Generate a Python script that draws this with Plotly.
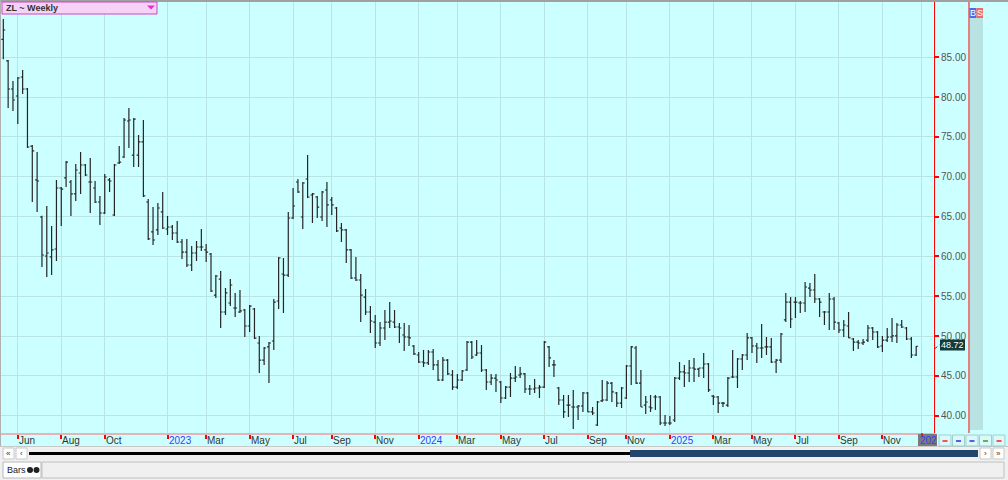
import plotly.graph_objects as go
import pandas as pd

W, H = 1008, 480

# ---------------- data (weekly OHLC, ZL) ----------------
start_date = "2022-05-13"
open_ = [87.26, 84.54, 81.02, 80.14, 82.53, 81.02, 73.86, 69.6, 64.95, 60.05,
         59.93, 60.93, 68.59, 69.85, 69.34, 67.84, 70.47, 71.48, 69.34, 68.59,
         66.83, 65.45, 69.6, 65.2, 71.73, 72.48, 77.0, 72.73, 72.73, 74.37,
         66.83, 63.07, 63.32, 65.58, 63.44, 63.69, 62.94, 61.81, 60.55, 58.92,
         60.43, 61.18, 60.81, 60.3, 55.15, 57.16, 53.02, 54.15, 53.52, 53.02,
         53.27, 51.26, 53.4, 49.13, 46.99, 48.63, 49.38, 54.4, 57.79, 57.66,
         64.82, 69.34, 64.95, 69.72, 67.71, 67.46, 64.95, 68.34, 67.08, 66.08,
         63.57, 63.32, 60.81, 57.29, 57.04, 54.9, 53.02, 51.76, 49.13, 51.01,
         51.76, 51.76, 51.14, 50.13, 49.88, 48.75, 47.62, 46.74, 46.62, 48.0,
         46.37, 44.48, 46.99, 45.11, 43.6, 44.48, 45.74, 49.25, 47.62, 47.87,
         45.74, 44.23, 44.73, 44.23, 42.22, 43.6, 44.73, 45.11, 45.24, 43.35,
         43.35, 43.48, 43.6, 48.63, 46.37, 43.48, 41.97, 41.34, 41.09, 41.09,
         41.22, 42.85, 40.47, 38.83, 41.85, 41.97, 44.1, 42.85, 41.59, 42.22,
         46.24, 48.5, 44.1, 41.34, 41.09, 42.35, 42.35, 39.08, 39.08, 39.46,
         44.73, 45.49, 45.36, 45.99, 45.86, 45.99, 46.49, 42.47, 42.35, 41.59,
         41.34, 44.86, 44.86, 47.12, 47.62, 49.76, 48.75, 48.5, 48.63, 48.63,
         46.74, 46.99, 52.02, 54.27, 54.27, 54.15, 54.15, 56.03, 55.78, 54.65,
         53.02, 53.02, 54.65, 51.64, 50.76, 51.26, 49.63, 49.25, 49.13, 49.5,
         51.01, 50.51, 48.75, 49.5, 49.88, 50.01, 51.39, 51.01, 49.63, 47.62]
high = [89.81, 84.66, 82.02, 82.53, 83.41, 81.15, 74.0, 73.11, 65.1, 66.33,
        63.82, 69.6, 68.72, 71.98, 69.6, 71.6, 73.11, 71.6, 72.36, 69.47,
        67.59, 70.35, 69.85, 71.6, 73.86, 77.38, 78.63, 77.38, 75.24, 77.13,
        67.21, 66.2, 66.71, 68.09, 65.07, 63.94, 64.45, 62.19, 62.19, 61.31,
        61.94, 63.44, 61.56, 60.43, 57.66, 58.17, 56.03, 57.16, 55.41, 55.78,
        53.4, 53.9, 53.52, 50.01, 48.63, 49.25, 54.65, 59.93, 59.8, 65.58,
        68.59, 69.72, 69.34, 72.73, 67.96, 67.59, 68.21, 69.34, 67.46, 66.2,
        64.19, 63.44, 60.93, 59.93, 57.79, 55.91, 53.77, 52.64, 51.76, 53.27,
        54.27, 53.27, 51.64, 51.64, 51.39, 48.88, 48.0, 48.25, 48.25, 48.37,
        46.99, 47.37, 47.12, 45.74, 45.24, 45.74, 49.38, 49.38, 49.5, 48.88,
        45.86, 45.24, 45.24, 44.36, 43.73, 45.36, 46.24, 46.12, 45.36, 43.85,
        44.61, 43.85, 49.38, 48.75, 46.99, 43.6, 42.6, 42.6, 43.23, 41.34,
        42.98, 42.98, 41.09, 41.85, 44.48, 44.36, 44.23, 42.98, 43.6, 46.37,
        48.75, 48.75, 45.74, 42.47, 42.6, 42.6, 42.47, 40.09, 39.96, 44.86,
        46.74, 46.37, 46.99, 47.25, 45.99, 47.87, 46.62, 42.6, 42.47, 41.72,
        44.86, 48.25, 47.25, 47.75, 50.38, 49.88, 49.13, 51.51, 49.88, 49.76,
        47.12, 50.38, 55.41, 54.9, 54.9, 54.4, 56.79, 56.66, 57.79, 54.78,
        53.15, 55.41, 54.9, 51.76, 52.02, 53.02, 49.76, 49.5, 49.63, 51.39,
        51.14, 50.63, 50.01, 51.01, 52.27, 51.64, 52.02, 51.14, 49.88, 48.75]
low = [84.75, 78.63, 78.26, 76.63, 80.39, 73.61, 66.83, 65.58, 58.67, 57.41,
       57.66, 59.42, 63.82, 68.72, 65.07, 66.96, 67.84, 70.1, 65.45, 66.71,
       63.94, 65.32, 68.09, 65.07, 71.6, 72.35, 73.61, 71.23, 71.23, 67.46,
       62.06, 61.43, 62.69, 63.44, 62.69, 62.06, 61.68, 59.67, 58.67, 58.17,
       59.42, 60.68, 59.29, 55.53, 54.78, 51.01, 52.64, 53.77, 52.39, 52.89,
       49.88, 50.51, 49.63, 45.36, 46.37, 44.1, 48.25, 53.4, 52.89, 57.41,
       64.7, 67.96, 63.44, 67.33, 64.19, 64.82, 64.45, 63.69, 65.2, 63.07,
       61.81, 59.17, 57.16, 56.91, 51.77, 52.64, 50.38, 48.5, 48.75, 49.5,
       51.01, 51.01, 49.13, 48.12, 48.75, 47.62, 46.62, 46.12, 46.37, 45.74,
       44.36, 44.36, 45.11, 43.23, 43.35, 44.36, 45.61, 47.12, 47.5, 45.49,
       43.23, 43.85, 42.98, 41.59, 42.09, 42.35, 44.23, 44.73, 42.85, 42.6,
       42.85, 42.22, 43.48, 46.12, 44.86, 41.34, 39.71, 39.84, 38.33, 39.46,
       40.47, 40.47, 40.09, 38.71, 41.72, 41.85, 41.72, 41.09, 40.97, 42.09,
       43.85, 43.98, 41.09, 40.21, 40.47, 40.72, 38.83, 38.71, 38.83, 39.21,
       44.48, 43.6, 44.23, 44.23, 44.86, 44.73, 42.98, 41.34, 40.34, 41.09,
       41.09, 44.73, 43.48, 45.74, 46.99, 47.87, 46.62, 47.25, 47.62, 46.62,
       45.36, 46.62, 51.76, 51.01, 52.27, 52.89, 53.02, 54.9, 54.15, 52.39,
       51.39, 50.76, 50.76, 50.38, 49.88, 49.76, 48.12, 48.37, 48.88, 49.25,
       49.5, 48.5, 47.99, 49.25, 49.25, 49.13, 51.01, 49.5, 47.25, 47.5]
close = [88.43, 81.02, 79.64, 82.4, 81.02, 73.74, 73.24, 69.47, 60.18, 60.43,
         60.81, 68.59, 68.46, 71.85, 67.84, 70.85, 71.48, 70.22, 69.34, 66.83,
         65.45, 69.97, 69.47, 71.48, 71.85, 77.13, 77.13, 77.25, 74.37, 67.59,
         62.19, 62.06, 66.08, 63.57, 63.69, 62.94, 61.81, 60.55, 58.92, 60.43,
         61.18, 61.18, 60.55, 55.66, 57.54, 53.02, 55.41, 56.41, 53.52, 53.15,
         51.26, 53.77, 49.75, 46.99, 48.5, 49.13, 54.27, 59.8, 57.66, 64.82,
         66.33, 68.09, 69.22, 67.46, 67.84, 66.2, 68.09, 66.46, 66.46, 63.2,
         63.32, 60.81, 57.29, 57.04, 55.15, 53.02, 51.89, 49.13, 51.01, 51.76,
         51.89, 51.14, 51.01, 49.88, 49.76, 47.75, 46.74, 46.62, 48.0, 46.37,
         44.48, 46.99, 45.24, 43.6, 44.48, 45.61, 49.25, 47.37, 47.87, 45.74,
         44.23, 44.73, 44.48, 42.22, 43.6, 44.73, 44.86, 45.24, 43.35, 43.35,
         43.48, 43.6, 49.25, 47.25, 46.37, 41.97, 40.47, 41.34, 41.09, 41.22,
         42.85, 40.47, 40.34, 41.72, 41.97, 44.1, 42.98, 41.59, 43.48, 46.24,
         48.63, 44.1, 41.09, 41.72, 40.97, 42.35, 39.08, 39.08, 39.08, 44.73,
         45.49, 45.36, 45.99, 45.86, 45.99, 46.49, 43.23, 42.35, 41.59, 41.59,
         44.73, 44.86, 47.12, 47.62, 49.76, 48.75, 48.5, 48.5, 48.63, 46.74,
         46.99, 50.26, 54.27, 52.14, 54.27, 54.15, 56.16, 55.78, 54.65, 54.27,
         53.02, 54.65, 51.76, 50.76, 51.39, 49.76, 49.25, 49.13, 49.25, 51.01,
         50.51, 48.63, 49.5, 49.88, 50.01, 51.39, 51.14, 49.63, 47.62, 48.72]

price_ticks = [40, 45, 50, 55, 60, 65, 70, 75, 80, 85]
time_tick_dates = ["2022-06-03", "2022-08-05", "2022-10-07", "2023-01-06", "2023-03-03",
                   "2023-05-05", "2023-07-07", "2023-09-01", "2023-11-03", "2024-01-05",
                   "2024-03-01", "2024-05-03", "2024-07-05", "2024-09-06", "2024-11-01",
                   "2025-01-03", "2025-03-07", "2025-05-02", "2025-07-04", "2025-09-05",
                   "2025-11-07", "2026-01-02"]
time_tick_labels = ["Jun", "Aug", "Oct", "2023", "Mar", "May", "Jul", "Sep", "Nov", "2024",
                    "Mar", "May", "Jul", "Sep", "Nov", "2025", "Mar", "May", "Jul", "Sep",
                    "Nov", "202"]
title_text = "ZL ~ Weekly"
last_price = close[-1]

dates = pd.date_range(start_date, periods=len(close), freq="7D")

# ---------------- helpers ----------------
def PX(x):
    return x / W


def PY(y):
    return 1 - y / H


CYAN = "#ccffff"
GRID = "#b8e4e4"
FONT = "Liberation Sans, Arial, sans-serif"

fig = go.Figure()
fig.add_trace(go.Ohlc(
    x=dates, open=open_, high=high, low=low, close=close,
    increasing=dict(line=dict(color="#262626", width=1.2)),
    decreasing=dict(line=dict(color="#262626", width=1.2)),
    tickwidth=0.4, hoverinfo="skip", showlegend=False,
))

shapes = []
annos = []


def rect(x0, y0, x1, y1, fill, line=None, lw=0, layer="below"):
    shapes.append(dict(type="rect", xref="paper", yref="paper",
                       x0=PX(x0), x1=PX(x1), y0=PY(y1), y1=PY(y0),
                       fillcolor=fill, layer=layer,
                       line=dict(color=line or fill, width=lw)))


def hline(x0, x1, y, color, w=1, layer="above", dash=None):
    shapes.append(dict(type="line", xref="paper", yref="paper",
                       x0=PX(x0), x1=PX(x1), y0=PY(y), y1=PY(y), layer=layer,
                       line=dict(color=color, width=w, dash=dash)))


def vline(x, y0, y1, color, w=1, layer="above"):
    shapes.append(dict(type="line", xref="paper", yref="paper",
                       x0=PX(x), x1=PX(x), y0=PY(y0), y1=PY(y1), layer=layer,
                       line=dict(color=color, width=w)))


def text(x, y, s, size=9, color="#333", anchor="left", bold=False, bg=None):
    annos.append(dict(xref="paper", yref="paper", x=PX(x), y=PY(y),
                      text=("<b>%s</b>" % s) if bold else s, showarrow=False,
                      xanchor=anchor, yanchor="middle",
                      font=dict(family=FONT, size=size, color=color),
                      bgcolor=bg, borderpad=0))


# cyan chart background incl. axis bands
rect(0, 0, 1008, 446, CYAN)
# right strip
vline(969, 0, 433, "#ff0000", 1)
rect(970, 18, 983, 430, "#b9e2e2", layer="above")
rect(969.5, 8, 976.3, 18, "#4d6be8", layer="above")
rect(976.3, 8, 983, 18, "#ec6a6a", layer="above")
text(973, 13, "B", size=9, color="white", anchor="center")
text(979.7, 13, "S", size=9, color="white", anchor="center")
# frame
hline(0, 1008, 1, "#a0a0a0", 2)
vline(0.5, 0, 480, "#b0b0b0", 1)
# time axis band bottom border
hline(0, 1008, 446.5, "#c8c8c8", 1)

# scrollbar row
rect(0, 447, 1008, 460, "#f0f0f0", layer="above")
for bx0, bx1, sym in [(3, 14, "«"), (16, 27, "‹"), (980, 991, "›"), (993, 1004, "»")]:
    rect(bx0, 448, bx1, 459, "#ffffff", line="#c8c8c8", lw=1, layer="above")
    text((bx0 + bx1) / 2, 453, sym, size=8, color="#333", anchor="center")
rect(29, 452, 630, 455, "#000000", layer="above")
rect(630, 450, 978, 457, "#24456b", layer="above")

# bottom panel
rect(0, 460, 1008, 480, "#f0f0f0", layer="above")
rect(42, 462, 1004, 478, "#f0f0f0", line="#c0c0c0", lw=1, layer="above")
rect(3, 462, 41, 478, "#ffffff", line="#b8b8b8", lw=1, layer="above")
text(6, 470, "Bars", size=9, color="#222")
for cx in (30, 36.5):
    shapes.append(dict(type="circle", xref="paper", yref="paper",
                       x0=PX(cx - 3), x1=PX(cx + 3), y0=PY(473), y1=PY(467),
                       fillcolor="#222", line=dict(color="#222", width=0), layer="above"))

# bottom right buttons
rect(918, 434, 937, 446, "#7a7a7a", layer="above")
text(919, 440.5, time_tick_labels[-1], size=10, color="#3a3aff")
vline(922, 433, 437, "#ff0000", 1.5)
icon_cols = ["#ee2222", "#2233dd", "#2233dd", "#22aa22", "#ee2222"]
for i, (bx0, col) in enumerate(zip([939, 952.5, 966, 979.5, 993], icon_cols)):
    rect(bx0, 435, bx0 + 12, 446, "#dcf8f8", line="#9ccfcf", lw=1, layer="above")
    hline(bx0 + 3.5, bx0 + 8.5, 441, col, 1.5)

# title box
rect(2, 2, 157, 14, "#f6d2f6", line="#cc44cc", lw=1, layer="above")
text(5, 8, title_text, size=9, color="#333", bold=True)
shapes.append(dict(type="path", xref="paper", yref="paper", layer="above",
                   path="M %f,%f L %f,%f L %f,%f Z" % (PX(147), PY(5.5), PX(155), PY(5.5), PX(151), PY(9.5)),
                   fillcolor="#dd33cc", line=dict(width=0)))

# last price label
rect(940, 339.5, 965, 350.5, "#123b3b", layer="above")
text(952.5, 345, "%.2f" % last_price, size=9, color="#ffffff", anchor="center")
shapes.append(dict(type="line", xref="paper", yref="paper", layer="above",
                   x0=PX(935), y0=PY(348.5), x1=PX(940), y1=PY(344.5),
                   line=dict(color="#333", width=1, dash="dot")))

# time labels
for d, lab in zip(time_tick_dates[:-1], time_tick_labels[:-1]):
    col = "#3a3aff" if lab.isdigit() else "#333333"
    annos.append(dict(xref="x", yref="paper", x=d, y=PY(440.5), text=lab,
                      showarrow=False, xanchor="left", yanchor="middle", xshift=-1,
                      font=dict(family=FONT, size=10, color=col)))

y_top = 92.195
y_bot = 92.195 - 0.12556 * 433

fig.update_layout(
    width=W, height=H, margin=dict(l=0, r=0, t=0, b=0),
    paper_bgcolor="#ffffff", plot_bgcolor=CYAN,
    shapes=shapes, annotations=annos, showlegend=False,
    xaxis=dict(domain=[0, PX(934)], type="date",
               range=["2022-05-08 05:00", "2026-01-20 19:00"],
               rangeslider=dict(visible=False),
               tickvals=time_tick_dates, ticktext=[""] * len(time_tick_dates),
               ticks="outside", ticklen=4, tickcolor="#ff0000", tickwidth=1.5,
               showgrid=True, gridcolor=GRID, gridwidth=1,
               showline=True, linecolor="#e6b4b4", linewidth=2,
               zeroline=False, fixedrange=True),
    yaxis=dict(domain=[PY(433), 1], side="right", range=[y_bot, y_top],
               tickvals=price_ticks, ticktext=["%.2f" % v for v in price_ticks],
               ticks="outside", ticklen=4, tickcolor="#ff0000", tickwidth=1.5,
               tickfont=dict(family=FONT, size=10, color="#555555"),
               showgrid=True, gridcolor=GRID, gridwidth=1,
               showline=True, linecolor="#ff0000", linewidth=1,
               zeroline=False, fixedrange=True),
)

fig.write_html("out.html", config={"displayModeBar": False},
               post_script="document.body.style.margin='0';document.body.style.overflow='hidden';")
